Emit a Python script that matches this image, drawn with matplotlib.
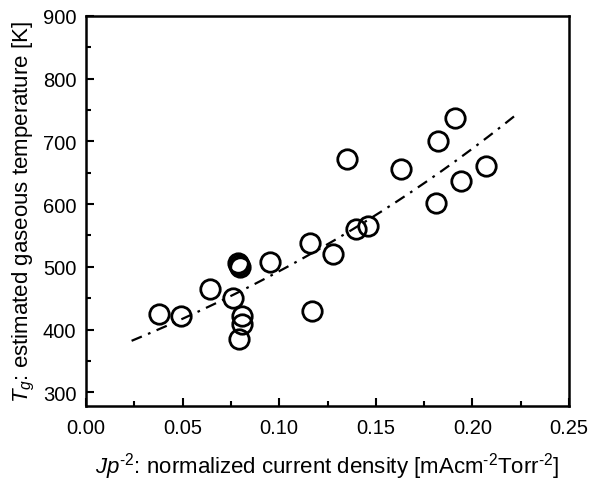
import numpy as np
import matplotlib
matplotlib.use("Agg")
import matplotlib.pyplot as plt
from matplotlib.ticker import MultipleLocator, FormatStrFormatter

plt.rcParams['font.family'] = ['Liberation Sans', 'DejaVu Sans']
plt.rcParams['mathtext.fontset'] = 'custom'
plt.rcParams['mathtext.rm'] = 'Liberation Sans'
plt.rcParams['mathtext.it'] = 'Liberation Sans:italic'
plt.rcParams['mathtext.sf'] = 'Liberation Sans'

# data: normalized current density vs estimated gas temperature
jp = [0.038, 0.049, 0.064, 0.076, 0.0785, 0.079, 0.0795, 0.081, 0.081, 0.079,
      0.095, 0.116, 0.117, 0.128, 0.135, 0.140, 0.146, 0.163, 0.181, 0.182,
      0.191, 0.194, 0.207]
tg = [425, 421, 464, 450, 506, 503, 500, 422, 409, 385,
      508, 538, 430, 520, 672, 560, 565, 656, 601, 701,
      738, 637, 661]

# exponential fit parameters (T = a * exp(b * Jp))
fit_a = 353.0
fit_b = 3.34
fit_x_range = [0.0236, 0.222]

fig = plt.figure(figsize=(5.9, 4.81), dpi=100)
ax = fig.add_axes([86/590, 1 - 407/481, (569-86)/590, (407-17)/481])

ax.plot(jp, tg, linestyle='none', marker='o', markersize=14,
        markerfacecolor='none', markeredgecolor='black', markeredgewidth=2.0)

xf = np.linspace(fit_x_range[0], fit_x_range[1], 200)
ax.plot(xf, fit_a * np.exp(fit_b * xf), color='black', linewidth=1.6,
        dashes=(5, 3, 1.2, 3))

ax.set_xlim(0, 0.25)
ax.set_ylim(278, 900)
ax.xaxis.set_major_locator(MultipleLocator(0.05))
ax.xaxis.set_minor_locator(MultipleLocator(0.025))
ax.yaxis.set_major_locator(MultipleLocator(100))
ax.yaxis.set_minor_locator(MultipleLocator(50))
ax.xaxis.set_major_formatter(FormatStrFormatter('%.2f'))
ax.tick_params(which='both', direction='in', top=False, right=False,
               width=1.5, labelsize=14.5)
ax.tick_params(axis='x', pad=9)
ax.tick_params(axis='y', pad=7)
ax.tick_params(which='major', length=6)
ax.tick_params(which='minor', length=3.5)
for s in ax.spines.values():
    s.set_linewidth(1.8)

ax.set_xlabel(r'$\mathit{Jp}^{\text{-2}}$: normalized current density [mAcm$^{\text{-2}}$Torr$^{\text{-2}}$]',
              fontsize=16, labelpad=9)
ax.set_ylabel(r'$\mathit{T}_{g}$: estimated gaseous temperature [K]', fontsize=16,
              labelpad=4)

fig.savefig('out.png', dpi=100)
